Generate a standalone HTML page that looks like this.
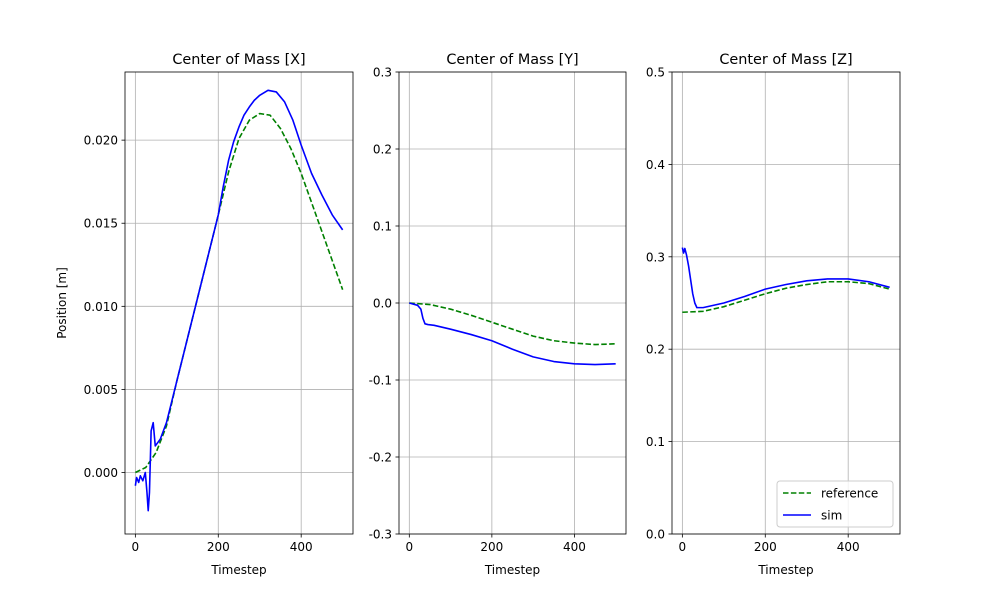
<!DOCTYPE html>
<html><head><meta charset="utf-8">
<style>
body{margin:0;background:#fff;font-family:"Liberation Sans","DejaVu Sans",sans-serif;}
svg text{font-family:"DejaVu Sans","Liberation Sans",sans-serif;}
</style></head>
<body>
<svg id="fig" width="1000" height="600" xmlns="http://www.w3.org/2000/svg"></svg>
<script>
// Panel X data
const xRefT=[0,25,50,75,100,150,200,225,250,275,300,325,350,375,400,450,500];
const xRefV=[0,0.0003,0.0012,0.0028,0.0055,0.0105,0.0155,0.0181,0.0201,0.0212,0.0216,0.0215,0.0207,0.0195,0.018,0.0145,0.011];
const xSimT=[0,3,8,12,18,24,28,31,34,38,43,48,60,75,100,150,200,212,225,237,250,262,275,287,300,320,340,360,380,400,425,450,475,500];
const xSimV=[-0.0008,-0.0003,-0.0006,-0.0002,-0.0005,0,-0.0012,-0.0023,-0.0012,0.0025,0.003,0.0016,0.002,0.003,0.0055,0.0105,0.0155,0.0172,0.0188,0.0199,0.0208,0.0215,0.022,0.0224,0.0227,0.023,0.0229,0.0223,0.0212,0.0197,0.018,0.0167,0.0155,0.0146];
// Panel Y data
const yRefT=[0,50,100,150,200,250,300,350,400,450,500];
const yRefV=[0,-0.002,-0.008,-0.016,-0.025,-0.034,-0.043,-0.049,-0.052,-0.054,-0.053];
const ySimT=[0,20,28,33,38,45,60,100,150,200,250,300,350,400,450,500];
const ySimV=[0,-0.003,-0.008,-0.02,-0.027,-0.028,-0.029,-0.034,-0.041,-0.049,-0.06,-0.07,-0.076,-0.079,-0.08,-0.079];
// Panel Z data
const zRefT=[0,50,100,150,200,250,300,350,400,450,500];
const zRefV=[0.24,0.241,0.246,0.253,0.26,0.266,0.27,0.273,0.273,0.271,0.265];
const zSimT=[0,3,6,10,15,20,25,30,35,50,100,150,200,250,300,350,400,450,500];
const zSimV=[0.31,0.304,0.309,0.302,0.29,0.275,0.26,0.25,0.245,0.245,0.25,0.257,0.265,0.27,0.274,0.276,0.276,0.273,0.267];
const xTicks=[0,200,400];
const yTicksX=[0,0.005,0.01,0.015,0.02];
const yTicksY=[-0.3,-0.2,-0.1,0,0.1,0.2,0.3];
const yTicksZ=[0,0.1,0.2,0.3,0.4,0.5];

const NS="http://www.w3.org/2000/svg";
const svg=document.getElementById('fig');
function mk(tag,attrs,parent){const e=document.createElementNS(NS,tag);for(const k in attrs)e.setAttribute(k,attrs[k]);(parent||svg).appendChild(e);return e;}

function panel(cfg){
  const g=mk('g',{});
  
  
  const L=cfg.l,R=cfg.r,T=72,B=534;
  const sx=v=>L+(v-(-25))/(550)*(R-L);
  const sy=v=>B-(v-cfg.ymin)/(cfg.ymax-cfg.ymin)*(B-T);
  xTicks.forEach(t=>{
    const x=sx(t);
    const gl=mk('line',{x1:x,x2:x,y1:T,y2:B,stroke:'#b0b0b0','stroke-width':0.8},g);
    
    
    mk('line',{x1:x,x2:x,y1:B,y2:B+3.5,stroke:'#000','stroke-width':0.8},g);
    const tx=mk('text',{x:x,y:B+17,'font-size':'12','text-anchor':'middle'},g);tx.textContent=t;
    
    
  });
  cfg.yt.forEach(t=>{
    const y=sy(t);
    const gl=mk('line',{x1:L,x2:R,y1:y,y2:y,stroke:'#b0b0b0','stroke-width':0.8},g);
    
    
    mk('line',{x1:L-3.5,x2:L,y1:y,y2:y,stroke:'#000','stroke-width':0.8},g);
    const tx=mk('text',{x:L-7,y:y+4.5,'font-size':'12','text-anchor':'end'},g);tx.textContent=t.toFixed(cfg.dec);
    
    
  });
  const line=(T_,V,color,dash,name)=>{
    const p=mk('polyline',{points:T_.map((t,i)=>sx(t)+','+sy(V[i])).join(' '),fill:'none',stroke:color,'stroke-width':1.6,'stroke-dasharray':dash||'none','stroke-linejoin':'round'},g);
    
    
  };
  line(cfg.rt,cfg.rv,'#008000','5.5,2.4','reference-line');
  line(cfg.st,cfg.sv,'#0000ff',null,'sim-line');
  const fr=mk('rect',{x:L,y:T,width:R-L,height:B-T,fill:'none',stroke:'#000','stroke-width':0.8},g);
  
  
  const ti=mk('text',{x:(L+R)/2,y:T-8,'font-size':'14.4','text-anchor':'middle'},g);ti.textContent=cfg.title;
  
  
  const xl=mk('text',{x:(L+R)/2,y:B+40,'font-size':'12','text-anchor':'middle'},g);xl.textContent='Timestep';
  
  
  return {sx,sy};
}
panel({name:'panel-x',l:125,r:353,ymin:-0.0037,ymax:0.0241,yt:yTicksX,dec:3,title:'Center of Mass [X]',rt:xRefT,rv:xRefV,st:xSimT,sv:xSimV});
panel({name:'panel-y',l:399,r:626,ymin:-0.3,ymax:0.3,yt:yTicksY,dec:1,title:'Center of Mass [Y]',rt:yRefT,rv:yRefV,st:ySimT,sv:ySimV});
panel({name:'panel-z',l:672,r:900,ymin:0,ymax:0.5,yt:yTicksZ,dec:1,title:'Center of Mass [Z]',rt:zRefT,rv:zRefV,st:zSimT,sv:zSimV});
const yl=mk('text',{x:0,y:0,'font-size':'12','text-anchor':'middle',transform:'translate(66,303) rotate(-90)'});
yl.textContent='Position [m]';


// legend
const lg=mk('g',{});


mk('rect',{x:777,y:481,width:116,height:46,rx:3,fill:'#fff','fill-opacity':0.8,stroke:'#ccc','stroke-width':1},lg);
mk('line',{x1:783,x2:811,y1:493,y2:493,stroke:'#008000','stroke-width':1.6,'stroke-dasharray':'5.5,2.4'},lg);
const t1=mk('text',{x:821,y:497.5,'font-size':'12'},lg);t1.textContent='reference';


mk('line',{x1:783,x2:811,y1:515,y2:515,stroke:'#0000ff','stroke-width':1.6},lg);
const t2=mk('text',{x:821,y:519.5,'font-size':'12'},lg);t2.textContent='sim';


</script>
</body></html>
